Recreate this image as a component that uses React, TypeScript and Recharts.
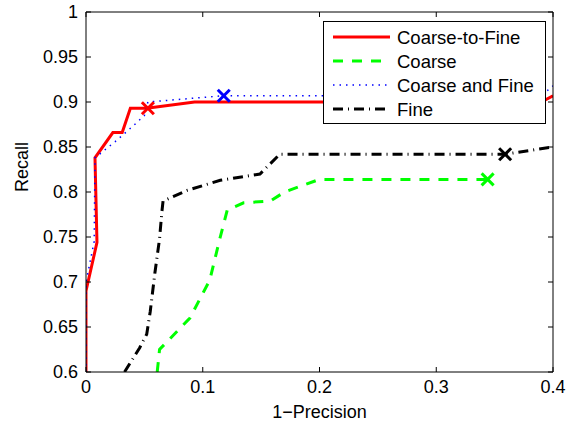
import { ComposedChart, Line, Scatter, XAxis, YAxis } from "recharts";

// Coarse-to-Fine (red, solid)
const ctfX = [0, 0, 0.0094, 0.0077, 0.023, 0.031, 0.038, 0.052, 0.093, 0.39, 0.4];
const ctfY = [0.6, 0.69, 0.744, 0.838, 0.866, 0.866, 0.893, 0.893, 0.9, 0.9, 0.907];
// Coarse (green, dashed)
const coarseX = [0.061, 0.063, 0.089, 0.106, 0.115, 0.121, 0.135, 0.158, 0.17, 0.2, 0.344];
const coarseY = [0.6, 0.625, 0.66, 0.702, 0.75, 0.78, 0.788, 0.79, 0.8, 0.814, 0.814];
// Coarse and Fine (blue, dotted)
const cafX = [0, 0, 0.007, 0.0077, 0.025, 0.04, 0.05, 0.053, 0.118, 0.39, 0.4];
const cafY = [0.6, 0.7, 0.745, 0.838, 0.856, 0.873, 0.885, 0.9, 0.907, 0.907, 0.918];
// Fine (black, dash-dot)
const fineX = [0.033, 0.046, 0.052, 0.055, 0.059, 0.063, 0.065, 0.066, 0.087, 0.115, 0.149, 0.166, 0.359, 0.4];
const fineY = [0.6, 0.627, 0.642, 0.667, 0.71, 0.748, 0.778, 0.79, 0.802, 0.813, 0.82, 0.842, 0.842, 0.85];

// operating points marked with a cross
const markCtf = [{ x: 0.053, y: 0.893 }];
const markCaf = [{ x: 0.118, y: 0.907 }];
const markCoarse = [{ x: 0.344, y: 0.814 }];
const markFine = [{ x: 0.359, y: 0.842 }];

const xTicks = [0, 0.1, 0.2, 0.3, 0.4];
const yTicks = [0.6, 0.65, 0.7, 0.75, 0.8, 0.85, 0.9, 0.95, 1];

const toPts = (xs: number[], ys: number[]) => xs.map((x, i) => ({ x, y: ys[i] }));

const series = [
  { name: "Coarse-to-Fine", data: toPts(ctfX, ctfY), color: "#ff0000", width: 3, dash: undefined },
  { name: "Coarse", data: toPts(coarseX, coarseY), color: "#00ff00", width: 3, dash: "10 9" },
  { name: "Coarse and Fine", data: toPts(cafX, cafY), color: "#0000ff", width: 1.5, dash: "1.5 5" },
  { name: "Fine", data: toPts(fineX, fineY), color: "#000000", width: 3, dash: "10 5 1 5" },
];

const font = "'Liberation Sans', Arial, Helvetica, sans-serif";

const XMark = (color: string) => (props: any) => {
  const { cx, cy } = props;
  const s = 6;
  return (
    <g stroke={color} strokeWidth={3}>
      <line x1={cx - s} y1={cy - s} x2={cx + s} y2={cy + s} />
      <line x1={cx - s} y1={cy + s} x2={cx + s} y2={cy - s} />
    </g>
  );
};

const LegendBox = () => (
  <svg width={223} height={103} style={{ display: "block" }}>
    <rect x={0.5} y={0.5} width={222} height={102} fill="#fff" stroke="#000" strokeWidth={1} />
    {series.map((s, i) => {
      const y = 16 + i * 24;
      return (
        <g key={s.name}>
          <line x1={10} x2={67} y1={y} y2={y} stroke={s.color} strokeWidth={s.width} strokeDasharray={s.dash} />
          <text x={74} y={y + 6.5} fontSize={18.5} fontFamily={font} fill="#000">{s.name}</text>
        </g>
      );
    })}
  </svg>
);

export default function App() {
  return (
    <div style={{ position: "absolute", left: 0, top: 0, width: 571, height: 425, background: "#fff" }}>
      <ComposedChart width={571} height={425} margin={{ top: 11, right: 17, left: 0, bottom: 0 }}>
        <XAxis xAxisId="b" type="number" dataKey="x" domain={[0, 0.4]} ticks={xTicks} allowDataOverflow
          height={53} stroke="#000" tickSize={-5} tickMargin={13} tickFormatter={(v) => String(v)}
          tick={{ fontSize: 18, fill: "#000", fontFamily: font }}
          label={{ value: "1\u2212Precision", position: "insideBottom", offset: 7, fontSize: 18, fill: "#000", fontFamily: font }} />
        <XAxis xAxisId="t" orientation="top" type="number" dataKey="x" domain={[0, 0.4]} ticks={xTicks} allowDataOverflow
          height={1} stroke="#000" tickSize={-5} tickMargin={0} tick={{ fontSize: 1, fill: "none" }} tickFormatter={() => ""} />
        <YAxis yAxisId="l" type="number" dataKey="y" domain={[0.6, 1]} ticks={yTicks} allowDataOverflow
          width={86} stroke="#000" tickSize={-5} tickMargin={13} tickFormatter={(v) => String(v)}
          tick={{ fontSize: 18, fill: "#000", fontFamily: font }}
          label={{ value: "Recall", angle: -90, position: "insideLeft", offset: 22, fontSize: 18, fill: "#000", fontFamily: font }} />
        <YAxis yAxisId="r" orientation="right" type="number" dataKey="y" domain={[0.6, 1]} ticks={yTicks} allowDataOverflow
          width={1} stroke="#000" tickSize={-5} tickMargin={0} tick={{ fontSize: 1, fill: "none" }} tickFormatter={() => ""} />
        {/* invisible copy so the top/right frame axes get drawn */}
        <Line xAxisId="t" yAxisId="r" data={series[0].data} dataKey="y" stroke="transparent" dot={false}
          isAnimationActive={false} legendType="none" />
        {series.map((s) => (
          <Line key={s.name} xAxisId="b" yAxisId="l" data={s.data} dataKey="y" type="linear"
            stroke={s.color} strokeWidth={s.width} strokeDasharray={s.dash} dot={false}
            isAnimationActive={false} legendType="none" />
        ))}
        <Scatter xAxisId="b" yAxisId="l" data={markCtf} dataKey="y" shape={XMark("#ff0000")} isAnimationActive={false} legendType="none" />
        <Scatter xAxisId="b" yAxisId="l" data={markCoarse} dataKey="y" shape={XMark("#00ff00")} isAnimationActive={false} legendType="none" />
        <Scatter xAxisId="b" yAxisId="l" data={markCaf} dataKey="y" shape={XMark("#0000ff")} isAnimationActive={false} legendType="none" />
        <Scatter xAxisId="b" yAxisId="l" data={markFine} dataKey="y" shape={XMark("#000000")} isAnimationActive={false} legendType="none" />
      </ComposedChart>
      <div style={{ position: "absolute", left: 323, top: 21 }}>
        <LegendBox />
      </div>
    </div>
  );
}
